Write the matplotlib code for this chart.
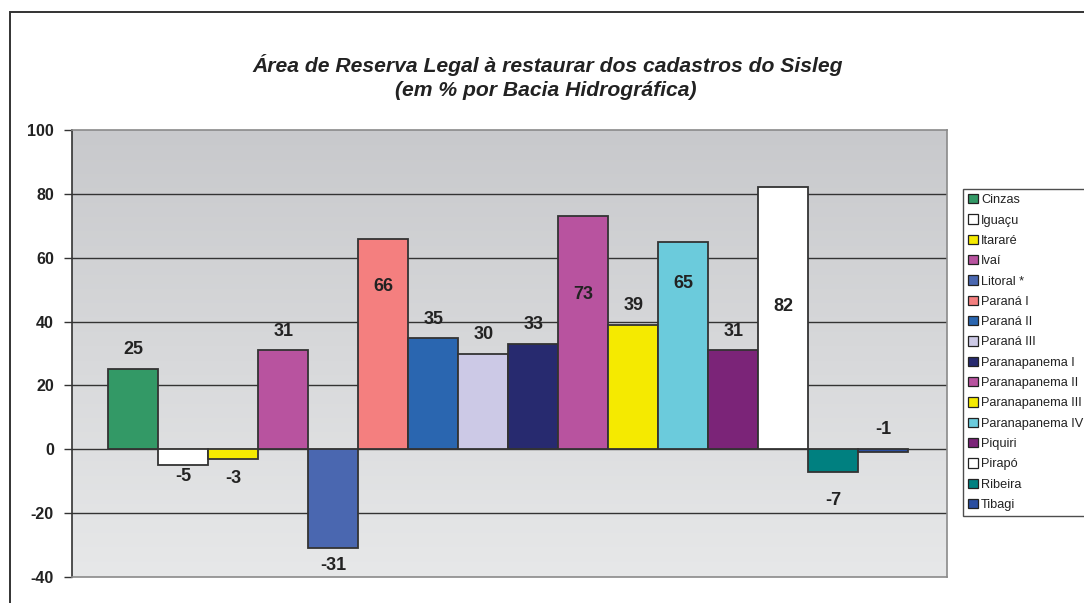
import numpy as np
import matplotlib
matplotlib.use("Agg")
import matplotlib.pyplot as plt
from matplotlib.patches import Rectangle, Patch

plt.rcParams['font.family'] = ['Liberation Sans', 'DejaVu Sans']

# ---- data ----
categories = ["Cinzas", "Iguaçu", "Itararé", "Ivaí", "Litoral *", "Paraná I",
              "Paraná II", "Paraná III", "Paranapanema I", "Paranapanema II",
              "Paranapanema III", "Paranapanema IV", "Piquiri", "Pirapó",
              "Ribeira", "Tibagi"]
values = [25, -5, -3, 31, -31, 66, 35, 30, 33, 73, 39, 65, 31, 82, -7, -1]
colors = ["#339966", "#ffffff", "#f5ea00", "#b8539f", "#4a67b0", "#f47f7f",
          "#2a66b0", "#ccc9e6", "#272a6f", "#b8539f", "#f5ea00", "#6bcbdc",
          "#7b2478", "#ffffff", "#008080", "#2b4ea0"]
# label vertical positions (as placed in the original chart)
label_y = [31.2, -8.4, -9.0, 37.0, -36.5, 51.0, 40.8, 35.9, 39.1, 48.4,
           45.0, 52.0, 37.0, 44.7, -15.9, 6.2]
yticks = [-40, -20, 0, 20, 40, 60, 80, 100]
title1 = "Área de Reserva Legal à restaurar dos cadastros do Sisleg"
title2 = "(em % por Bacia Hidrográfica)"

W, H = 1084, 603
fig = plt.figure(figsize=(W / 100, H / 100), dpi=100)
fig.patch.set_facecolor("white")

# outer frame
fig.patches.append(Rectangle((10 / W, -0.05), 1.2, 1 - 12 / H + 0.05,
                             transform=fig.transFigure, fill=False,
                             edgecolor="#333333", linewidth=1.4))

ax = fig.add_axes([72 / W, (H - 577) / H, (947 - 72) / W, 447 / H])
x = np.arange(len(values))
ax.set_xlim(-0.5 - 0.726, len(values) - 0.5 + 0.774)
ax.set_ylim(-40, 100)

# gradient background
grad = np.linspace(0, 1, 256).reshape(-1, 1)
top = np.array([200, 201, 204]) / 255
bot = np.array([231, 232, 233]) / 255
img = top[None, None, :] * (1 - grad[:, :, None]) + bot[None, None, :] * grad[:, :, None]
ax.imshow(img, extent=[0, 1, 0, 1], transform=ax.transAxes, aspect="auto",
          zorder=0, origin="upper")

for yv in yticks[1:-1]:
    ax.axhline(yv, color="#333333", linewidth=1.0, zorder=1)

ax.bar(x, values, width=1.0, color=colors, edgecolor="#333333",
       linewidth=1.3, zorder=2)

for xi, v, ly in zip(x, values, label_y):
    ax.text(xi, ly, f"{v}", ha="center", va="center", fontsize=13,
            fontweight="bold", color="#222222", zorder=3)

ax.set_yticks(yticks)
ax.set_yticklabels([str(t) for t in yticks], fontsize=11.5, fontweight="bold",
                   color="#222222")
ax.set_xticks([])
ax.tick_params(axis="y", direction="out", length=6, width=1.0,
               color="#333333", pad=7)
ax.spines["left"].set_color("#333333")
ax.spines["left"].set_linewidth(1.2)
for s in ["top", "right", "bottom"]:
    ax.spines[s].set_color("#8a8a8a")
    ax.spines[s].set_linewidth(1.2)

fig.text(548 / W, 1 - 72 / H, title1, ha="center", va="baseline",
         fontsize=15.2, fontweight="bold", fontstyle="italic", color="#222222")
fig.text(546 / W, 1 - 96 / H, title2, ha="center", va="baseline",
         fontsize=15.2, fontweight="bold", fontstyle="italic", color="#222222")

handles = [Patch(facecolor=c, edgecolor="#222222", linewidth=0.9) for c in colors]
leg = fig.legend(handles, categories, loc="upper left",
                 bbox_to_anchor=(963 / W, 1 - 189 / H), fontsize=9.2,
                 frameon=True, fancybox=False, borderaxespad=0,
                 handlelength=0.75, handleheight=0.75, handletextpad=0.25,
                 labelspacing=0.64, borderpad=0.4)
leg.get_frame().set_edgecolor("#222222")
leg.get_frame().set_linewidth(1.0)
for t in leg.get_texts():
    t.set_color("#222222")

fig.savefig("out.png", dpi=100)
